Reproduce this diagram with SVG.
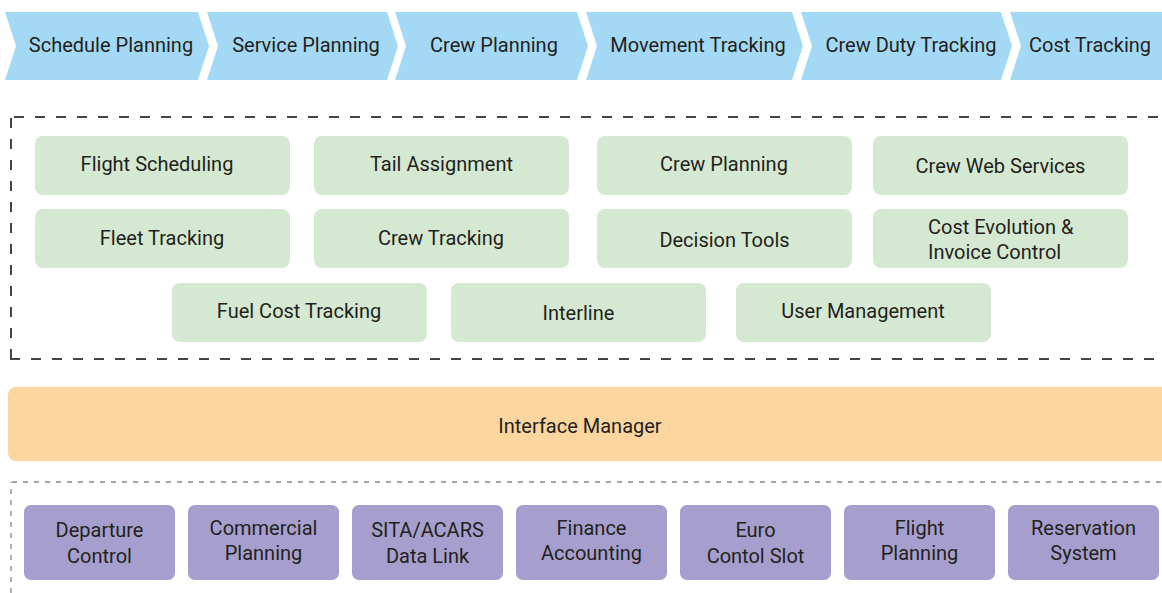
<svg xmlns="http://www.w3.org/2000/svg" width="1162" height="593" viewBox="0 0 1162 593">
<style>
text{font-family:Roboto,"Liberation Sans",sans-serif;font-size:20px;fill:#231F20;text-anchor:middle}
.chev{fill:#A3D9F5}
.app{fill:#D5E8D1}
.ext{fill:#A69FCE}
.im{fill:#FDD69F}
.d1{fill:none;stroke:#444;stroke-width:2;stroke-dasharray:10 11}
.d2{fill:none;stroke:#888;stroke-width:1.3;stroke-dasharray:5 6}
</style>
<g id="process">
<g id="chev-schedule"><polygon class="chev" points="5,12 198,12 209,46 198,80 5,80 16,46"/><text x="111" y="52">Schedule Planning</text></g>
<g id="chev-service"><polygon class="chev" points="207,12 387,12 398,46 387,80 207,80 218,46"/><text x="306" y="52">Service Planning</text></g>
<g id="chev-crew"><polygon class="chev" points="395,12 577,12 588,46 577,80 395,80 406,46"/><text x="494" y="52">Crew Planning</text></g>
<g id="chev-movement"><polygon class="chev" points="586,12 792,12 803,46 792,80 586,80 597,46"/><text x="698" y="52">Movement Tracking</text></g>
<g id="chev-duty"><polygon class="chev" points="801,12 1001,12 1012,46 1001,80 801,80 812,46"/><text x="911" y="52">Crew Duty Tracking</text></g>
<g id="chev-cost"><polygon class="chev" points="1010,12 1163,12 1174,46 1163,80 1010,80 1021,46"/><text x="1090" y="52">Cost Tracking</text></g>
</g>
<g id="frames">
<path class="d1" d="M11,359 V117"/>
<path class="d1" d="M14,117 H1162"/>
<path class="d1" d="M10,359 H1162"/>
<path class="d2" d="M11,593 V482"/>
<path class="d2" d="M12,482 H1162"/>
</g>
<g id="applications">
<g id="flight-scheduling"><rect class="app" x="35" y="136" width="255" height="59" rx="8"/><text x="157" y="171">Flight Scheduling</text></g>
<g id="tail-assignment"><rect class="app" x="314" y="136" width="255" height="59" rx="8"/><text x="441.5" y="171">Tail Assignment</text></g>
<g id="crew-planning"><rect class="app" x="597" y="136" width="255" height="59" rx="8"/><text x="724" y="171">Crew Planning</text></g>
<g id="crew-web-services"><rect class="app" x="873" y="136" width="255" height="59" rx="8"/><text x="1000.5" y="173">Crew Web Services</text></g>
<g id="fleet-tracking"><rect class="app" x="35" y="209" width="255" height="59" rx="8"/><text x="162" y="245">Fleet Tracking</text></g>
<g id="crew-tracking"><rect class="app" x="314" y="209" width="255" height="59" rx="8"/><text x="441" y="245">Crew Tracking</text></g>
<g id="decision-tools"><rect class="app" x="597" y="209" width="255" height="59" rx="8"/><text x="724.5" y="247">Decision Tools</text></g>
<g id="cost-evolution"><rect class="app" x="873" y="209" width="255" height="59" rx="8"/><text x="928" y="234" style="text-anchor:start">Cost Evolution &amp;</text><text x="928" y="259" style="text-anchor:start">Invoice Control</text></g>
<g id="fuel-cost-tracking"><rect class="app" x="172" y="283" width="255" height="59" rx="8"/><text x="299" y="318">Fuel Cost Tracking</text></g>
<g id="interline"><rect class="app" x="451" y="283" width="255" height="59" rx="8"/><text x="578.5" y="320">Interline</text></g>
<g id="user-management"><rect class="app" x="736" y="283" width="255" height="59" rx="8"/><text x="863" y="318">User Management</text></g>
</g>
<g id="interface-manager"><rect class="im" x="8" y="387" width="1164" height="74" rx="8"/><text x="580" y="433">Interface Manager</text></g>
<g id="external">
<g id="departure-control"><rect class="ext" x="24" y="505" width="151" height="75" rx="7"/><text x="99.5" y="537">Departure</text><text x="99.5" y="563">Control</text></g>
<g id="commercial-planning"><rect class="ext" x="188" y="505" width="151" height="75" rx="7"/><text x="263.5" y="535">Commercial</text><text x="263.5" y="560">Planning</text></g>
<g id="sita-acars"><rect class="ext" x="352" y="505" width="151" height="75" rx="7"/><text x="427.5" y="537">SITA/ACARS</text><text x="427.5" y="563">Data Link</text></g>
<g id="finance-accounting"><rect class="ext" x="516" y="505" width="151" height="75" rx="7"/><text x="591.5" y="535">Finance</text><text x="591.5" y="560">Accounting</text></g>
<g id="euro-control-slot"><rect class="ext" x="680" y="505" width="151" height="75" rx="7"/><text x="755.5" y="537">Euro</text><text x="755.5" y="563">Contol Slot</text></g>
<g id="flight-planning"><rect class="ext" x="844" y="505" width="151" height="75" rx="7"/><text x="919.5" y="535">Flight</text><text x="919.5" y="560">Planning</text></g>
<g id="reservation-system"><rect class="ext" x="1008" y="505" width="151" height="75" rx="7"/><text x="1083.5" y="535">Reservation</text><text x="1083.5" y="560">System</text></g>
</g>
</svg>
